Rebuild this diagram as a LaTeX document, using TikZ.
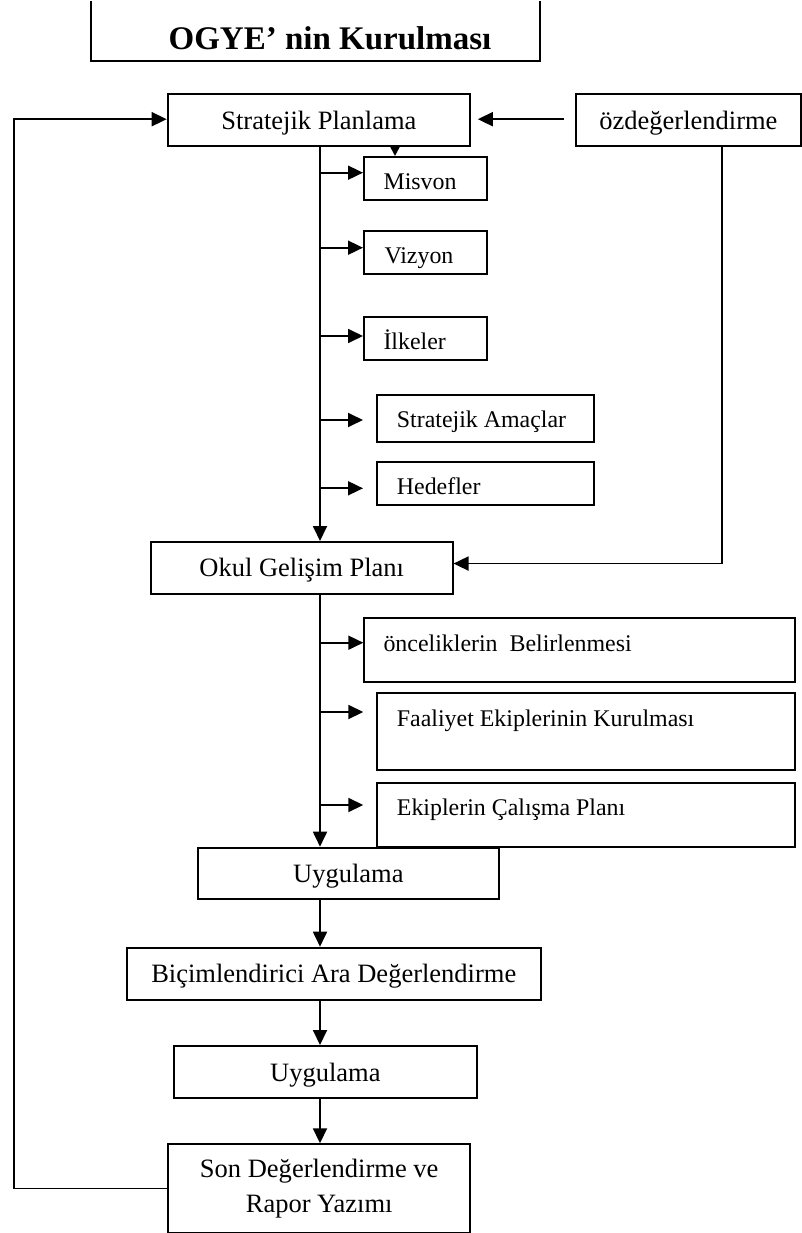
\documentclass[tikz,border=0pt]{standalone}
\usepackage{fontspec}
\setmainfont{Liberation Serif}
\usetikzlibrary{arrows.meta}
\begin{document}
\begin{tikzpicture}[x=1pt,y=-1pt,
  box/.style={draw, line width=1.8pt, inner sep=0pt, anchor=north west},
  mainfont/.style={font=\fontsize{26.5}{35}\selectfont},
  main/.style={box, mainfont, text height=18pt, text depth=0pt},
  subtext/.style={anchor=base west, inner sep=0pt, font=\fontsize{23.9}{28}\selectfont},
  arr/.style={line width=1.8pt, -{Triangle[length=15pt,width=14pt]}},
  arrsmall/.style={line width=1.8pt, -{Triangle[length=10pt,width=10pt]}},
]
\useasboundingbox (0,0) rectangle (801,1233);

% title with its open frame
\node[anchor=base, inner sep=0pt, font=\bfseries\fontsize{33}{40}\selectfont] (title) at (330,49.5) {OGYE’ nin Kurulması};
\draw[line width=1.8pt] (91,1.5) -- (91,60.7) -- (540,60.7) -- (540,1.5);

% main flow boxes
\node[main, minimum width=302.6pt, minimum height=52pt] (sp) at (166.7,93.3) {Stratejik Planlama};
\node[main, minimum width=225pt, minimum height=52pt] (oz) at (575,93.3) {özdeğerlendirme};
\node[main, minimum width=301.7pt, minimum height=51.7pt] (okul) at (150,541) {Okul Gelişim Planı};
\node[main, minimum width=301.6pt, minimum height=51.6pt] (uyg1) at (196.7,846.7) {Uygulama};
\node[main, minimum width=414.3pt, minimum height=52.6pt] (bic) at (125.7,946.7) {Biçimlendirici Ara Değerlendirme};
\node[main, minimum width=302.4pt, minimum height=52.3pt] (uyg2) at (173.3,1045) {Uygulama};
\node[box, mainfont, align=center, minimum width=302pt, minimum height=88.7pt] (son) at (167.3,1143.3) {Son Değerlendirme ve\\Rapor Yazımı};

% strategic planning items
\node[box, minimum width=123pt, minimum height=43.3pt] (mis) at (363,156) {};
\node[subtext] (mis-t) at (383.3,190) {Misvon};
\node[box, minimum width=123pt, minimum height=43.3pt] (viz) at (363,230) {};
\node[subtext] (viz-t) at (384.3,263.3) {Vizyon};
\node[box, minimum width=123pt, minimum height=43.3pt] (ilk) at (363,315.7) {};
\node[subtext] (ilk-t) at (383.3,349.3) {İlkeler};
\node[box, minimum width=217pt, minimum height=46.7pt] (sa) at (375.7,394.3) {};
\node[subtext] (sa-t) at (396.7,427.3) {Stratejik Amaçlar};
\node[box, minimum width=217pt, minimum height=43pt] (hed) at (375.7,461) {};
\node[subtext] (hed-t) at (396.7,494) {Hedefler};

% development plan items
\node[box, minimum width=431pt, minimum height=63.4pt] (onc) at (363.3,617.3) {};
\node[subtext] (onc-t) at (383.3,651.7) {önceliklerin\ \ Belirlenmesi};
\node[box, minimum width=418.3pt, minimum height=77pt] (fa) at (376,692.3) {};
\node[subtext] (fa-t) at (396.7,726) {Faaliyet Ekiplerinin Kurulması};
\node[box, minimum width=418.3pt, minimum height=63.7pt] (ek) at (376,782.3) {};
\node[subtext] (ek-t) at (396.7,815) {Ekiplerin Çalışma Planı};

% guide lines
\coordinate (tx) at (320,0);
\coordinate (loopx) at (14,0);
\coordinate (ozx) at (721.7,0);

% feedback loop and self-evaluation links
\draw[arr] (son.west) -- (son.west -| loopx) |- ([yshift=1pt]sp.west);
\draw[arr] ([xshift=-11pt,yshift=1pt]oz.west) -- ([xshift=6.7pt,yshift=1pt]sp.east);
\draw[arr] (oz.south -| ozx) |- ([yshift=4.2pt]okul.east);
\draw[arrsmall] ([xshift=32pt]mis.north west |- sp.south) -- ([xshift=32pt]mis.north west);

% main trunk
\draw[arr] (sp.south -| tx) -- (okul.north -| tx);
\draw[arr] (okul.south -| tx) -- (uyg1.north -| tx);
\draw[arr] (uyg1.south -| tx) -- (bic.north -| tx);
\draw[arr] (bic.south -| tx) -- (uyg2.north -| tx);
\draw[arr] (uyg2.south -| tx) -- (son.north -| tx);

% branches off the trunk
\coordinate (b1) at (320,172.7);
\coordinate (b2) at (320,247.7);
\coordinate (b3) at (320,336);
\coordinate (b4) at (320,420);
\coordinate (b5) at (320,488.3);
\coordinate (c1) at (320,642.7);
\coordinate (c2) at (320,712);
\coordinate (c3) at (320,805);
\draw[arr] (b1) -- (b1 -| mis.west);
\draw[arr] (b2) -- (b2 -| viz.west);
\draw[arr] (b3) -- (b3 -| ilk.west);
\draw[arr] (b4) -- (b4 -| mis.west);
\draw[arr] (b5) -- (b5 -| mis.west);
\draw[arr] (c1) -- (c1 -| onc.west);
\draw[arr] (c2) -- (c2 -| onc.west);
\draw[arr] (c3) -- (c3 -| onc.west);
\end{tikzpicture}
\end{document}
